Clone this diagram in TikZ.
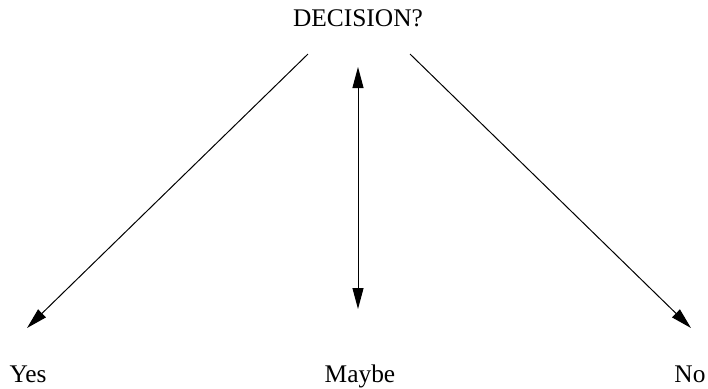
\documentclass[tikz,border=0pt]{standalone}
\usepackage{fontspec}
\setmainfont{Liberation Serif}
\usepackage{tikz}
\usetikzlibrary{positioning, arrows.meta, calc}

\begin{document}
\begin{tikzpicture}[
        x=0.5pt, y=-0.5pt,
        label/.style={inner sep=0pt, anchor=base, font=\fontsize{12.7}{15}\selectfont},
        line/.style={draw, line width=0.5pt, -{Triangle[length=10.5pt, width=5.5pt]}},
        double line/.style={draw, line width=0.5pt, {Triangle[length=10.5pt, width=5.5pt]}-{Triangle[length=10.5pt, width=5.5pt]}}
    ]
        \useasboundingbox (0,0) rectangle (708,388);

        % Labels
        \node[label] (Decision) at (358,26) {DECISION?};
        \node[label] (Yes) at (28,382) {Yes};
        \node[label] (Maybe) at (360,382) {Maybe};
        \node[label] (No) at (690,382) {No};

        % Arrow ends
        \coordinate (YesStart) at (308,54);
        \coordinate (YesTip) at (27,328);
        \coordinate (MaybeTop) at (358,67);
        \coordinate (MaybeBottom) at (358,309);
        \coordinate (NoStart) at (410,54);
        \coordinate (NoTip) at (691,328);

        % Arrows
        \draw[line] (YesStart) -- (YesTip);
        \draw[double line] (MaybeTop) -- (MaybeBottom);
        \draw[line] (NoStart) -- (NoTip);

    \end{tikzpicture}
\end{document}
